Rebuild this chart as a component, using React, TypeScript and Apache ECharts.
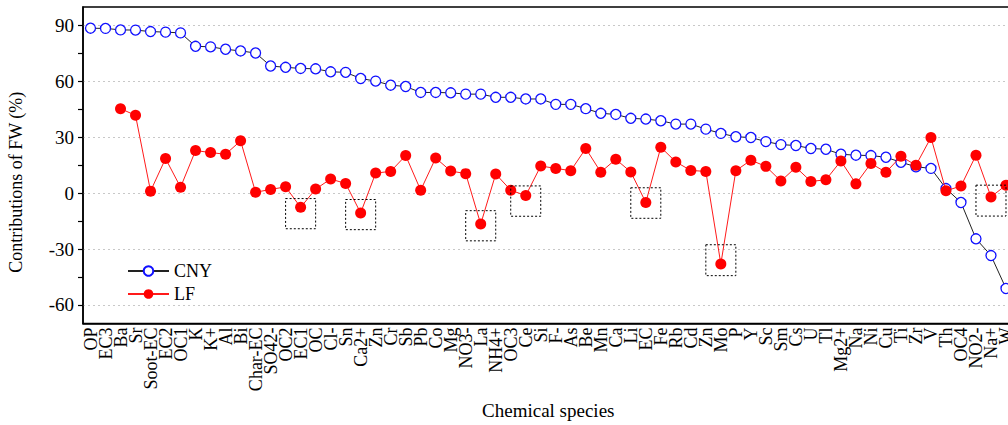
import React, { useEffect, useRef } from "react";
import * as echarts from "echarts";

const categories = [
  "OP", "EC3", "Ba", "Sr", "Soot-EC", "EC2", "OC1", "K", "K+", "Al", "Bi", "Char-EC",
  "SO42-", "OC2", "EC1", "OC", "Cl-", "Sn", "Ca2+", "Zn", "Cr", "Sb", "Pb", "Co", "Mg",
  "NO3-", "La", "NH4+", "OC3", "Ce", "Si", "F-", "As", "Be", "Mn", "Ca", "Li", "EC", "Fe",
  "Rb", "Cd", "Zn", "Mo", "P", "Y", "Sc", "Sm", "Cs", "U", "Tl", "Mg2+", "Na", "Ni", "Cu",
  "Ti", "Zr", "V", "Th", "OC4", "NO2-", "Na+", "W",
];

const cnyValues = [
  88.6, 88.5, 87.7, 87.6, 86.8, 86.5, 86.1, 78.9, 78.6, 77.3, 76.4, 75.3,
  68.3, 67.6, 67.0, 66.8, 65.2, 64.9, 61.6, 60.2, 58.0, 57.3, 54.1, 54.1, 53.9,
  53.2, 53.2, 51.5, 51.5, 50.6, 50.6, 47.7, 47.7, 45.4, 42.9, 42.3, 40.2, 39.8, 38.9,
  37.1, 37.1, 34.4, 32.1, 30.3, 29.9, 27.7, 26.1, 25.6, 24.0, 23.6, 20.9, 20.4, 20.2, 19.3,
  16.6, 14.2, 13.3, 2.5, -5.0, -24.5, -33.5, -51.2,
];

const lfValues: (number | null)[] = [
  null, null, 45.4, 41.8, 1.1, 18.6, 3.2, 22.9, 21.8, 20.9, 28.1, 0.5,
  2.0, 3.4, -7.6, 2.2, 7.6, 5.2, -10.6, 10.8, 11.7, 20.2, 1.6, 18.9, 11.9,
  10.5, -16.6, 10.3, 1.6, -1.3, 14.6, 13.3, 12.1, 24.0, 11.3, 18.2, 11.4, -5.0, 24.7,
  16.8, 12.2, 11.7, -38.0, 12.1, 17.7, 14.4, 6.5, 13.9, 6.3, 7.2, 17.3, 5.0, 16.0, 11.2,
  19.8, 15.0, 29.9, 1.3, 3.8, 20.4, -2.0, 4.3,
];

// highlighted points: [category index, box top value, box bottom value]
const boxes = [
  [14, -2.9, -19.1],
  [18, -3.4, -19.6],
  [26, -9.4, -25.6],
  [29, 3.9, -12.4],
  [37, 2.9, -13.5],
  [42, -27.7, -44.3],
  [60, 4.3, -12.3],
];

const yLabelValues = [-60, -30, 0, 30, 60, 90];
const yTickValues = [-60, -45, -30, -15, 0, 15, 30, 45, 60, 75, 90];

const FONT = "Liberation Serif";

export default function App() {
  const ref = useRef<HTMLDivElement>(null);

  useEffect(() => {
    if (!ref.current) return;
    const chart = echarts.init(ref.current, undefined, { renderer: "svg" });
    chart.setOption({
      animation: false,
      backgroundColor: "#fff",
      textStyle: { fontFamily: FONT },
      grid: {
        left: 83,
        right: -5.5,
        top: 7,
        bottom: 101.5,
        containLabel: false,
        outerBoundsMode: "none",
        show: true,
        borderColor: "#000",
        borderWidth: 1.5,
        backgroundColor: "transparent",
      },
      legend: {
        orient: "vertical",
        left: 122,
        top: 257,
        itemWidth: 41,
        itemHeight: 12,
        itemGap: 5,
        textStyle: { fontFamily: FONT, fontSize: 18, color: "#000" },
        data: ["CNY", "LF"],
      },
      xAxis: {
        type: "category",
        data: categories,
        boundaryGap: true,
        axisLine: { onZero: false, lineStyle: { color: "#000", width: 1.5 } },
        axisTick: {
          alignWithLabel: true,
          interval: 0,
          length: 5,
          lineStyle: { color: "#000", width: 1.2 },
        },
        axisLabel: {
          interval: 0,
          rotate: 90,
          margin: 4,
          color: "#000",
          fontFamily: FONT,
          fontSize: 18,
        },
        splitLine: { show: false },
        name: "Chemical species",
        nameLocation: "middle",
        nameGap: 77,
        nameTextStyle: { fontFamily: FONT, fontSize: 19, color: "#000" },
      },
      yAxis: [
        {
          type: "value",
          min: -70,
          max: 100,
          axisLine: { show: true, lineStyle: { color: "#000", width: 1.5 } },
          axisTick: {
            show: true,
            length: 5,
            customValues: yTickValues,
            lineStyle: { color: "#000", width: 1.2 },
          },
          axisLabel: {
            customValues: yLabelValues,
            color: "#000",
            fontFamily: FONT,
            fontSize: 19,
            margin: 9,
          },
          splitLine: { show: false },
          name: "Contributions of FW (%)",
          nameLocation: "middle",
          nameGap: 58,
          nameTextStyle: {
            fontFamily: FONT,
            fontSize: 18,
            color: "#000",
            padding: [0, 34, 0, 0],
          },
        },
        {
          type: "value",
          min: -70,
          max: 100,
          position: "left",
          axisLine: { show: false },
          axisTick: { show: false, customValues: yLabelValues },
          axisLabel: { show: false },
          splitLine: {
            show: true,
            lineStyle: { color: "#c8c8c8", type: [2, 3], width: 1.2 },
          },
        },
      ],
      series: [
        {
          name: "CNY",
          type: "line",
          data: cnyValues,
          symbol: "circle",
          symbolSize: 10,
          lineStyle: { color: "#222", width: 1 },
          itemStyle: { color: "#fff", borderColor: "#1010ff", borderWidth: 1.3 },
          z: 3,
        },
        {
          name: "LF",
          type: "line",
          data: lfValues,
          symbol: "circle",
          symbolSize: 11,
          connectNulls: false,
          lineStyle: { color: "#ff1a1a", width: 1 },
          itemStyle: { color: "#ff0000", borderColor: "#ff0000", borderWidth: 0 },
          z: 4,
        },
        {
          name: "boxes",
          type: "custom",
          data: boxes,
          silent: true,
          z: 5,
          renderItem: (params: any, api: any) => {
            const idx = api.value(0);
            const p1 = api.coord([idx, api.value(1)]);
            const p2 = api.coord([idx, api.value(2)]);
            const bw = api.size([1, 0])[0];
            return {
              type: "rect",
              shape: {
                x: p1[0] - bw,
                y: p1[1],
                width: bw * 2,
                height: p2[1] - p1[1],
              },
              style: {
                fill: "none",
                stroke: "#000",
                lineWidth: 1,
                lineDash: [2, 2],
              },
            };
          },
        },
      ],
    });
    return () => chart.dispose();
  }, []);

  return (
    <div
      ref={ref}
      style={{ position: "fixed", left: 0, top: 0, width: 1008, height: 425 }}
    />
  );
}
